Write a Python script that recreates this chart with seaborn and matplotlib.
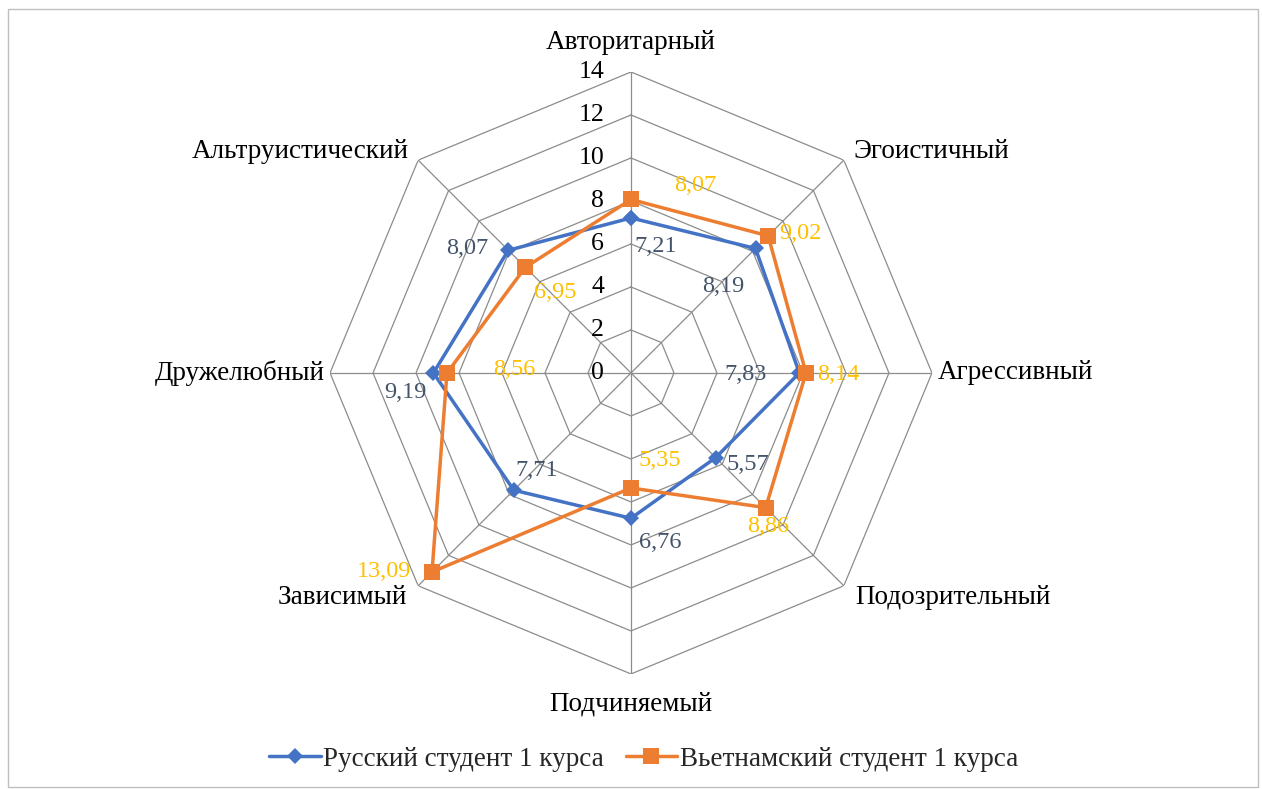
import numpy as np
import pandas as pd
import matplotlib
matplotlib.use("Agg")
import matplotlib.pyplot as plt
import seaborn as sns
from matplotlib.patches import Rectangle

# данные
categories = ["Авторитарный", "Эгоистичный", "Агрессивный", "Подозрительный",
              "Подчиняемый", "Зависимый", "Дружелюбный", "Альтруистический"]
russian = [7.21, 8.19, 7.83, 5.57, 6.76, 7.71, 9.19, 8.07]
vietnam = [8.07, 9.02, 8.14, 8.86, 5.35, 13.09, 8.56, 6.95]
series_names = ["Русский студент 1 курса", "Вьетнамский студент 1 курса"]
r_ticks = [0, 2, 4, 6, 8, 10, 12, 14]

sns.set_theme(style="white")
plt.rcParams["font.family"] = ["Liberation Serif", "DejaVu Serif"]

n = len(categories)
theta = np.linspace(0, 2 * np.pi, n, endpoint=False)
theta_closed = np.append(theta, theta[0])

rows = []
for name, vals in zip(series_names, [russian, vietnam]):
    for t, v in zip(theta_closed, vals + vals[:1]):
        rows.append({"theta": t, "value": v, "series": name})
df = pd.DataFrame(rows)

fig = plt.figure(figsize=(12.62, 7.89), dpi=100)
fig.patches.append(Rectangle((0.006, 0.003), 0.991, 0.985, transform=fig.transFigure,
                             fill=False, edgecolor="#bfbfbf", linewidth=1))
ax = fig.add_axes([0.2615, 0.1458, 0.477, 0.763], projection="polar")
ax.set_theta_zero_location("N")
ax.set_theta_direction(-1)
ax.set_ylim(0, 14)
ax.grid(False)
ax.spines["polar"].set_visible(False)
ax.set_xticks([])
ax.set_yticks([])
ax.set_facecolor("none")

# октагональная сетка
grid_c = "#8c8c8c"
for r in r_ticks[1:]:
    ax.plot(theta_closed, [r] * (n + 1), color=grid_c, lw=0.9, zorder=1)
for t in theta:
    ax.plot([t, t], [0, 14], color=grid_c, lw=0.9, zorder=1)

# подписи шкалы
for r in r_ticks:
    ax.annotate(str(r), (0, r), xytext=(-27, 0), textcoords="offset pixels",
                ha="right", va="center", fontsize=18.5, color="black")

colors = ["#4472C4", "#ED7D31"]
markers = ["D", "s"]
msizes = [8, 11]
for name, c, m, ms in zip(series_names, colors, markers, msizes):
    sns.lineplot(data=df[df["series"] == name], x="theta", y="value", sort=False,
                 estimator=None, color=c, lw=2.5, marker=m, markersize=ms,
                 markeredgewidth=0, ax=ax, label=name, zorder=3)
ax.set_xlabel("")
ax.set_ylabel("")
ax.set_ylim(0, 14)

# подписи категорий
cat_pos = [(15.35, "center", "center"), (14.6, "left", "center"), (14.25, "left", "center"),
           (14.75, "left", "center"), (15.4, "center", "center"), (14.75, "right", "center"),
           (14.25, "right", "center"), (14.6, "right", "center")]
for t, lab, (r, ha, va) in zip(theta, categories, cat_pos):
    ax.text(t, r, lab, ha=ha, va=va, fontsize=19.5, color="black", clip_on=False)

# подписи значений
ru_off = [(25, -29), (-32, -38), (-54, -2), (32, -7), (29, -24), (23, 20), (-28, -20), (-41, 2)]
vn_off = [(64, 14), (32, 2), (32, -2), (2, -19), (29, 27), (-48, 0), (67, 3), (30, -25)]
for vals, offs, col in [(russian, ru_off, "#44546A"), (vietnam, vn_off, "#FFC000")]:
    for t, v, o in zip(theta, vals, offs):
        ax.annotate(f"{v:.2f}".replace(".", ","), (t, v), xytext=o, textcoords="offset pixels",
                    ha="center", va="center", fontsize=17.5, color=col, zorder=4)

ax.legend(loc="center", ncol=2, frameon=False, fontsize=19.5, handlelength=1.9,
          columnspacing=0.8, handletextpad=0.1)
leg = ax.get_legend()
leg.set_bbox_to_anchor((0.51, 0.038), transform=fig.transFigure)

fig.savefig("out.png", dpi=100)
